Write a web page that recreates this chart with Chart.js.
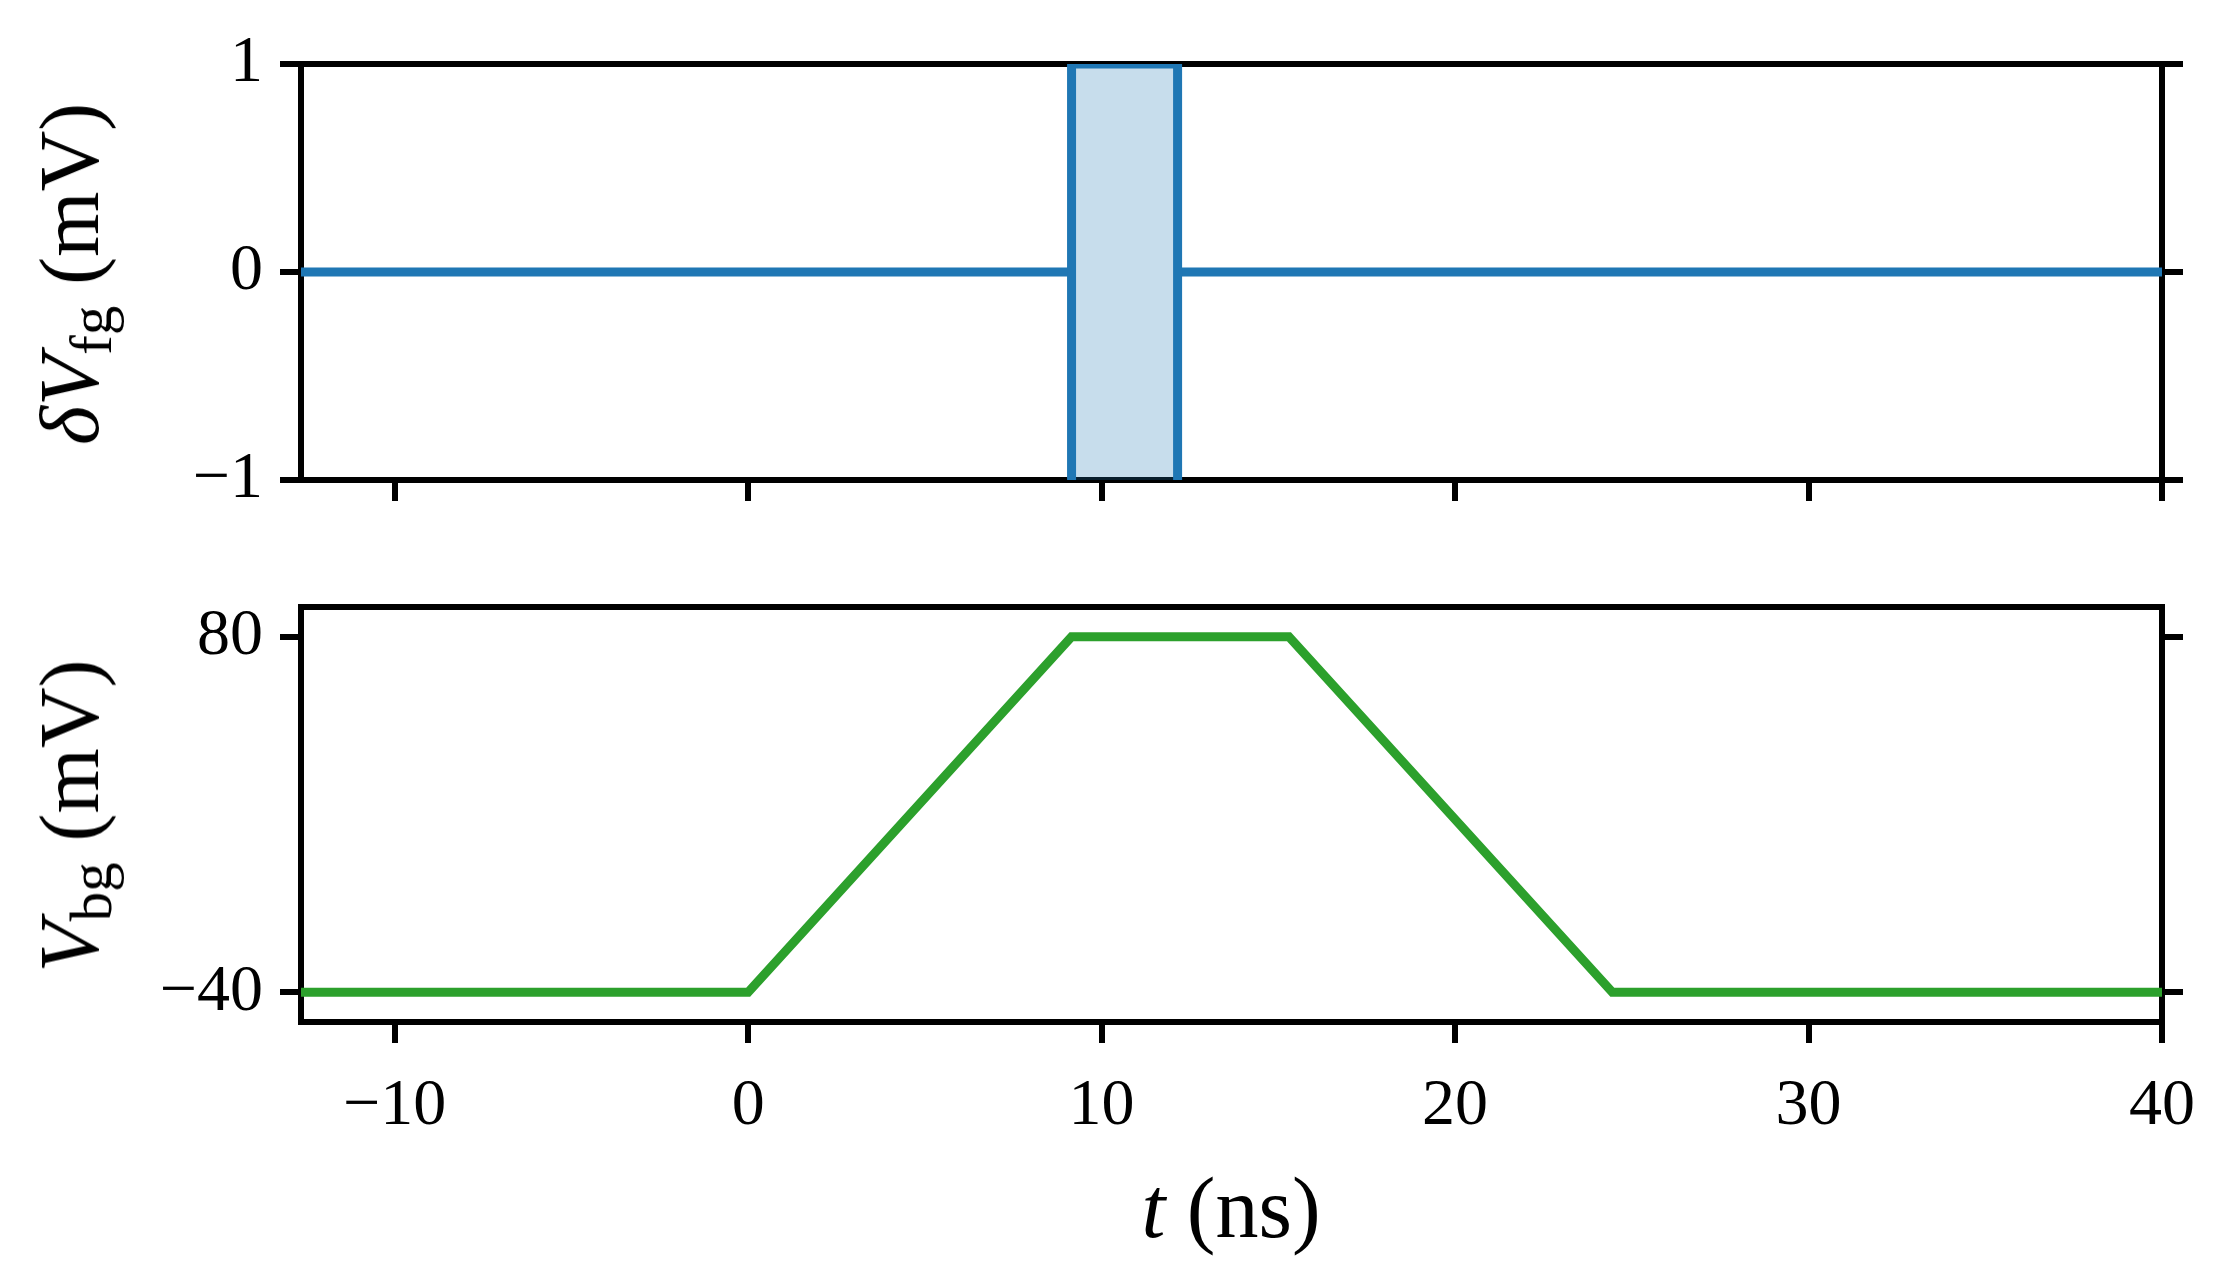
<!DOCTYPE html>
<html>
<head>
<meta charset="utf-8">
<title>Gate voltage pulses</title>
<script src="https://cdn.jsdelivr.net/npm/chart.js@4/dist/chart.umd.min.js"></script>
<style>
  html, body { margin: 0; padding: 0; background: #fff; }
  body { width: 2229px; height: 1283px; position: relative; overflow: hidden; font-family: 'Liberation Serif', serif; }
  .panel { position: absolute; left: 0; width: 2229px; }
  #top-panel { top: 0; height: 540px; }
  #bottom-panel { top: 540px; height: 743px; }
  .axis-title { position: absolute; font-size: 84px; line-height: 1; white-space: nowrap; color: #000; }
  .axis-title sub { font-size: 0.7em; vertical-align: -0.22em; line-height: 0; }
  .ylab { transform: translate(-50%, -50%) rotate(-90deg); }
  .xlab { transform: translate(-50%, -50%); font-size: 86px; }
</style>
</head>
<body>
<div class="panel" id="top-panel"><canvas id="fgChart" width="2229" height="540"></canvas></div>
<div class="panel" id="bottom-panel"><canvas id="bgChart" width="2229" height="743"></canvas></div>
<div class="axis-title ylab" style="left:70px; top:274px"><i>δV</i><sub>fg</sub> (mV)</div>
<div class="axis-title ylab" style="left:70px; top:816px"><i>V</i><sub>bg</sub> (mV)</div>
<div class="axis-title xlab" style="left:1231px; top:1208px"><i>t</i> (ns)</div>

<script>
// axis limits and ticks
const xMin = -12.65;
const xMax = 40;
const xTicks = [-10, 0, 10, 20, 30, 40];
const fgRange = [-1, 1];
const fgTicks = [-1, 0, 1];
const bgRange = [-50, 90];
const bgTicks = [-40, 80];

// foreground gate: flat at 0 with a gap where the pulse sits
const fgTime = [-12.65, 9.15, 9.15, 12.15, 12.15, 40];
const fgValue = [0, 0, null, null, 0, 0];

// pulse window (shaded span)
const pulseTime = [9.15, 9.15, 12.15, 12.15];
const pulseValue = [-1, 1, 1, -1];

// back gate ramp
const bgTime = [-12.65, 0, 9.15, 15.3, 24.45, 40];
const bgValue = [-40, -40, 80, 80, -40, -40];

const BLACK = '#000';
const BLUE = '#1f77b4';
const BLUE_FILL = 'rgba(31, 119, 180, 0.25)';
const GREEN = '#2ca02c';
const tickFont = { family: "'Liberation Serif', serif", size: 66 };

const pts = (xs, ys) => xs.map((x, i) => ({ x: x, y: ys[i] }));
const minus = v => String(v).replace('-', '\u2212');

function xAxis(showLabels, height) {
  return {
    type: 'linear', position: 'bottom', min: xMin, max: xMax,
    afterBuildTicks: s => { s.ticks = xTicks.map(v => ({ value: v })); },
    afterFit: s => { s.height = height; },
    grid: { drawOnChartArea: false, tickLength: 21, tickWidth: 6, tickColor: BLACK, lineWidth: 6 },
    border: { display: true, color: BLACK, width: 6 },
    ticks: { display: showLabels, padding: 24, font: tickFont, color: BLACK, maxRotation: 0, callback: minus }
  };
}

function frameTop(height) {
  return {
    type: 'linear', position: 'top', min: xMin, max: xMax,
    afterFit: s => { s.height = height; },
    grid: { drawOnChartArea: false, drawTicks: false, lineWidth: 6 },
    border: { display: true, color: BLACK, width: 6 },
    ticks: { display: false }
  };
}

function yAxis(position, range, tickVals, width, showLabels) {
  return {
    type: 'linear', position: position, min: range[0], max: range[1],
    afterBuildTicks: s => { s.ticks = tickVals.map(v => ({ value: v })); },
    afterFit: s => { s.width = width; },
    grid: { drawOnChartArea: false, tickLength: 21, tickWidth: 6, tickColor: BLACK, lineWidth: 6 },
    border: { display: true, color: BLACK, width: 6 },
    ticks: { display: showLabels, padding: 17, font: tickFont, color: BLACK, callback: minus }
  };
}

const common = {
  responsive: false,
  maintainAspectRatio: false,
  animation: false,
  layout: { padding: 0 },
  plugins: { legend: { display: false }, tooltip: { enabled: false } },
  elements: { point: { radius: 0 }, line: { tension: 0 } }
};

// Top panel: foreground gate pulse
new Chart(document.getElementById('fgChart'), {
  type: 'line',
  data: {
    datasets: [
      {
        data: pts(pulseTime, pulseValue),
        borderColor: BLUE, borderWidth: 9, backgroundColor: BLUE_FILL,
        fill: { value: -1 }
      },
      {
        data: pts(fgTime, fgValue),
        borderColor: BLUE, borderWidth: 9, fill: false, spanGaps: false
      }
    ]
  },
  options: Object.assign({}, common, {
    scales: {
      x: xAxis(false, 60),
      xTop: frameTop(64),
      y: yAxis('left', fgRange, fgTicks, 301, true),
      yRight: yAxis('right', fgRange, fgTicks, 67, false)
    }
  })
});

// Bottom panel: back gate ramp
new Chart(document.getElementById('bgChart'), {
  type: 'line',
  data: {
    datasets: [
      {
        data: pts(bgTime, bgValue),
        borderColor: GREEN, borderWidth: 9, fill: false
      }
    ]
  },
  options: Object.assign({}, common, {
    scales: {
      x: xAxis(true, 261),
      xTop: frameTop(67),
      y: yAxis('left', bgRange, bgTicks, 301, true),
      yRight: yAxis('right', bgRange, bgTicks, 67, false)
    }
  })
});
</script>
</body>
</html>
